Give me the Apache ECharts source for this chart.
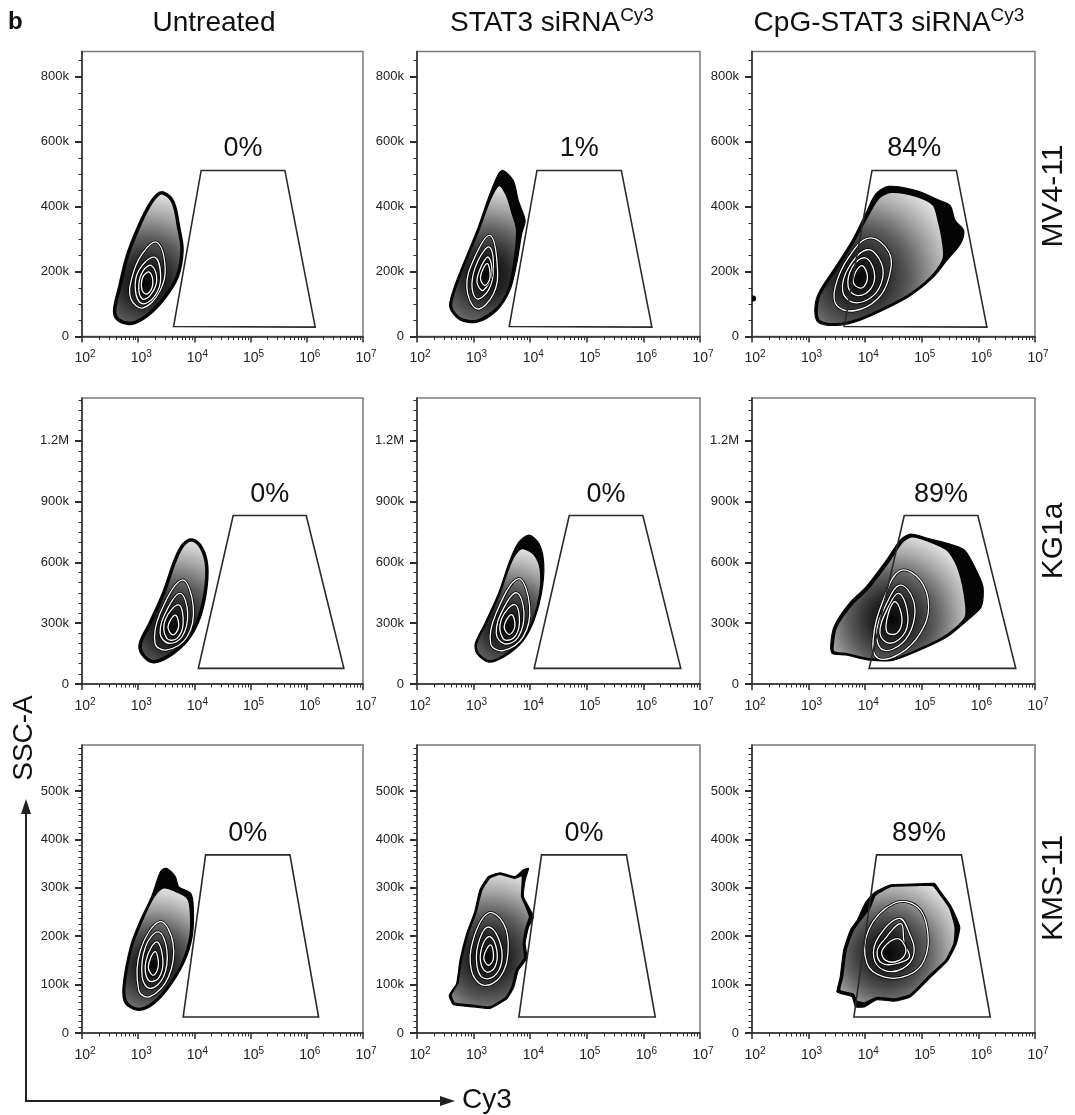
<!DOCTYPE html>
<html><head><meta charset="utf-8">
<script src="https://cdn.jsdelivr.net/npm/echarts@6/dist/echarts.min.js"></script>
<style>html,body{margin:0;padding:0;background:#fff}#c{width:1075px;height:1115px}</style>
</head><body><div id="c"></div>
<script>
// ---------------- DATA ----------------
// x values: log10(Cy3 intensity); y values: SSC-A in thousands (k)
const columnTitles = ['Untreated', 'STAT3 siRNA', 'CpG-STAT3 siRNA'];
const columnSup = ['', 'Cy3', 'Cy3'];
const rowLabels = ['MV4-11', 'KG1a', 'KMS-11'];
const xTickExponents = [2, 3, 4, 5, 6, 7];
const yMaxK = [877, 1411, 595];
const yMajorTicks = [[0, 200, 400, 600, 800], [0, 300, 600, 900, 1200], [0, 100, 200, 300, 400, 500]];
const yMinorStep = [50, 50, 12.5];
const percents = [['0%', '1%', '84%'], ['0%', '0%', '89%'], ['0%', '0%', '89%']];
const gateMV4 = [[3.63, 31], [4.12, 511], [5.61, 511], [6.15, 29]];
const gateKG1a = [[4.07, 77], [4.69, 831], [5.99, 831], [6.66, 77]];
const gateKMS = [[3.80, 33], [4.20, 368], [5.70, 368], [6.21, 33]];

// MV4-11
const body_MV4_untr = [[3.45,441],[3.62,413],[3.72,336],[3.78,265],[3.69,182],[3.45,116],[3.16,65],[2.89,41],[2.65,51],[2.58,80],[2.67,152],[2.80,244],[2.98,326],[3.18,398],[3.33,434]];
const rings_MV4_untr = [
  [[3.33,290],[3.48,213],[3.39,142],[3.09,88],[2.87,116],[2.89,182],[3.07,254]],
  [[3.29,244],[3.40,182],[3.30,126],[3.07,101],[2.95,142],[3.01,203]],
  [[3.24,218],[3.33,172],[3.21,126],[3.07,116],[3.01,157],[3.09,203]],
  [[3.20,198],[3.26,162],[3.16,131],[3.07,142],[3.08,182]]
];
const core_MV4_untr = [3.14, 165];

const band_MV4_stat = [[3.52,511],[3.70,480],[3.79,418],[3.91,357],[3.85,317],[3.76,224],[3.64,142],[3.41,80],[3.06,44],[2.76,51],[2.58,90],[2.64,142],[2.82,224],[3.06,326],[3.29,439],[3.44,500]];
const body_MV4_stat = [[3.45,465],[3.58,435],[3.68,380],[3.76,330],[3.73,250],[3.62,150],[3.41,88],[3.06,50],[2.77,56],[2.61,91],[2.67,142],[2.84,224],[3.08,322],[3.30,424]];
const rings_MV4_stat = [
  [[3.29,311],[3.42,213],[3.35,131],[3.06,85],[2.88,152],[3.02,244]],
  [[3.28,275],[3.35,203],[3.26,142],[3.06,116],[2.97,162],[3.08,234]],
  [[3.26,244],[3.32,193],[3.17,142],[3.06,167],[3.14,218]],
  [[3.24,224],[3.29,182],[3.20,157],[3.12,182]]
];
const core_MV4_stat = [3.22, 190];

const band_MV4_cpg = [[3.11,80],[3.17,131],[3.47,213],[3.77,295],[4.01,378],[4.19,439],[4.42,462],[4.90,449],[5.32,418],[5.50,403],[5.59,357],[5.74,326],[5.68,285],[5.44,234],[5.20,182],[4.84,131],[4.42,90],[3.89,49],[3.47,34],[3.17,44]];
const body_MV4_cpg = [[3.15,84],[3.21,131],[3.51,213],[3.81,295],[4.05,372],[4.24,426],[4.46,444],[4.90,432],[5.20,405],[5.29,357],[5.36,300],[5.38,240],[5.17,185],[4.82,134],[4.41,94],[3.89,54],[3.48,39],[3.19,49]];
const rings_MV4_cpg = [
  [[4.07,303],[4.42,259],[4.42,182],[4.22,116],[3.83,80],[3.50,95],[3.47,152],[3.71,244]],
  [[4.04,267],[4.29,224],[4.28,162],[4.07,116],[3.77,106],[3.60,142],[3.71,213]],
  [[4.00,242],[4.16,198],[4.10,147],[3.86,126],[3.70,152],[3.77,213]],
  [[3.95,218],[4.04,182],[3.95,150],[3.80,162],[3.83,198]]
];
const core_MV4_cpg = [3.89, 182];
const dots_MV4_cpg = [[2.02, 117]];

// KG1a
const body_KG1a_untr = [[3.96,710],[4.13,669],[4.22,579],[4.19,447],[4.07,316],[3.87,217],[3.57,143],[3.27,110],[3.07,151],[3.04,201],[3.21,299],[3.45,447],[3.66,612],[3.80,686]];
const rings_KG1a_untr = [
  [[3.78,513],[3.98,381],[3.87,233],[3.51,168],[3.30,201],[3.39,349]],
  [[3.75,447],[3.88,349],[3.78,233],[3.54,201],[3.39,250],[3.51,365]],
  [[3.72,390],[3.80,299],[3.69,225],[3.51,225],[3.48,316]],
  [[3.66,340],[3.72,283],[3.62,242],[3.53,283]]
];
const core_KG1a_untr = [3.60, 283];

const band_KG1a_stat = [[3.98,735],[4.16,690],[4.24,590],[4.20,450],[4.07,316],[3.87,212],[3.57,140],[3.27,108],[3.06,150],[3.03,200],[3.20,299],[3.44,447],[3.65,615],[3.80,700]];
const body_KG1a_stat = [[3.92,665],[4.08,635],[4.18,565],[4.17,447],[4.05,316],[3.86,216],[3.57,146],[3.28,114],[3.08,152],[3.05,200],[3.22,299],[3.46,447],[3.67,606],[3.82,665]];
const rings_KG1a_stat = [
  [[3.79,520],[3.99,385],[3.88,235],[3.52,165],[3.30,200],[3.40,350]],
  [[3.76,450],[3.89,350],[3.79,232],[3.55,198],[3.40,250],[3.52,368]],
  [[3.73,392],[3.81,300],[3.70,226],[3.52,224],[3.49,318]],
  [[3.67,342],[3.73,285],[3.63,244],[3.54,285]]
];
const core_KG1a_stat = [3.60, 285];

const band_KG1a_cpg = [[3.39,184],[3.45,283],[3.72,398],[4.02,480],[4.38,612],[4.62,710],[4.80,740],[5.10,719],[5.45,694],[5.75,661],[5.93,579],[6.08,480],[6.05,381],[5.81,316],[5.45,233],[4.97,168],[4.50,118],[4.08,118],[3.66,143],[3.42,151]];
const body_KG1a_cpg = [[3.43,184],[3.49,280],[3.76,390],[4.06,472],[4.41,600],[4.65,698],[4.82,727],[5.10,707],[5.45,660],[5.63,579],[5.75,447],[5.77,330],[5.43,240],[4.97,174],[4.50,124],[4.08,124],[3.67,149],[3.45,158]];
const rings_KG1a_cpg = [
  [[4.62,559],[4.97,513],[5.12,381],[4.97,250],[4.62,151],[4.23,127],[4.14,217],[4.32,414]],
  [[4.62,488],[4.85,414],[4.85,299],[4.65,201],[4.32,168],[4.20,250],[4.38,398]],
  [[4.59,447],[4.74,365],[4.71,258],[4.44,201],[4.26,250],[4.41,381]],
  [[4.53,406],[4.65,324],[4.56,250],[4.38,258],[4.41,349]]
];
const core_KG1a_cpg = [4.47, 320];

// KMS-11
const band_KMS_untr = [[3.51,340],[3.66,323],[3.72,302],[3.93,289],[3.98,261],[3.96,199],[3.81,144],[3.51,88],[3.21,54],[2.98,47],[2.77,61],[2.73,95],[2.86,178],[3.04,233],[3.24,282],[3.36,323],[3.42,337]];
const body_KMS_untr = [[3.45,300],[3.68,292],[3.88,278],[3.93,250],[3.92,199],[3.78,145],[3.49,91],[3.20,58],[2.98,51],[2.80,64],[2.76,95],[2.89,178],[3.07,232],[3.27,280]];
const rings_KMS_untr = [
  [[3.39,230],[3.62,185],[3.54,116],[3.21,75],[3.01,88],[3.04,171]],
  [[3.36,209],[3.51,171],[3.45,116],[3.21,92],[3.07,116],[3.13,178]],
  [[3.33,188],[3.44,150],[3.36,113],[3.18,109],[3.14,150]],
  [[3.30,168],[3.36,140],[3.27,119],[3.18,137]]
];
const core_KMS_untr = [3.27, 137];

const band_KMS_stat = [[3.97,340],[3.91,316],[3.88,282],[3.97,261],[4.06,240],[3.97,219],[3.91,185],[3.94,154],[3.79,130],[3.71,95],[3.59,71],[3.29,51],[2.99,54],[2.64,59],[2.57,78],[2.70,102],[2.76,150],[2.88,206],[3.02,250],[3.11,295],[3.26,323],[3.47,331],[3.73,323],[3.88,337]];
const body_KMS_stat = [[3.86,325],[3.85,282],[3.93,260],[3.99,240],[3.93,219],[3.88,185],[3.90,155],[3.76,131],[3.68,96],[3.57,73],[3.29,54],[2.99,57],[2.66,62],[2.60,79],[2.72,103],[2.78,150],[2.90,205],[3.04,249],[3.14,294],[3.28,320],[3.47,328],[3.72,320]];
const rings_KMS_stat = [
  [[3.26,248],[3.53,226],[3.61,171],[3.47,116],[3.17,99],[2.96,130],[2.99,192]],
  [[3.26,219],[3.44,195],[3.50,150],[3.35,116],[3.14,116],[3.05,150],[3.11,195]],
  [[3.29,199],[3.41,171],[3.38,137],[3.23,126],[3.12,150],[3.17,185]],
  [[3.30,182],[3.35,154],[3.26,140],[3.18,157]]
];
const core_KMS_stat = [3.26, 157];

const band_KMS_cpg = [[3.50,85],[3.56,116],[3.62,171],[3.74,213],[3.86,233],[4.00,268],[4.15,289],[4.45,306],[4.92,308],[5.22,309],[5.31,295],[5.52,261],[5.67,219],[5.61,185],[5.46,150],[5.16,116],[4.80,75],[4.51,66],[4.21,69],[3.98,54],[3.83,54],[3.77,75],[3.56,82]];
const body_KMS_cpg = [[3.55,88],[3.60,116],[3.66,171],[3.78,211],[3.90,231],[4.08,258],[4.18,285],[4.46,303],[4.92,305],[5.20,305],[5.29,292],[5.49,259],[5.59,219],[5.57,185],[5.43,151],[5.13,118],[4.80,79],[4.51,70],[4.21,73],[3.98,62],[3.85,66],[3.79,80]];
const rings_KMS_cpg = [
  [[4.51,268],[4.92,261],[5.10,213],[5.04,150],[4.75,119],[4.33,116],[4.03,144],[4.06,213]],
  [[4.60,237],[4.78,206],[4.86,164],[4.66,133],[4.33,130],[4.15,157],[4.24,199]],
  [[4.63,226],[4.69,185],[4.78,157],[4.57,144],[4.30,144],[4.21,168],[4.33,192]],
  [[4.57,195],[4.72,171],[4.60,150],[4.36,150],[4.30,171]]
];
const core_KMS_cpg = [4.39, 164];

// ---------------- BUILD ----------------
const F = "'Liberation Sans', Arial, Helvetica, sans-serif";
const panels = [
  {band: null, body: body_MV4_untr, rings: rings_MV4_untr, core: core_MV4_untr, gate: gateMV4, smooth: 0.35},
  {band: band_MV4_stat, body: body_MV4_stat, rings: rings_MV4_stat, core: core_MV4_stat, gate: gateMV4, smooth: 0.3},
  {band: band_MV4_cpg, body: body_MV4_cpg, rings: rings_MV4_cpg, core: core_MV4_cpg, gate: gateMV4, smooth: 0.3, dots: dots_MV4_cpg},
  {band: null, body: body_KG1a_untr, rings: rings_KG1a_untr, core: core_KG1a_untr, gate: gateKG1a, smooth: 0.35},
  {band: band_KG1a_stat, body: body_KG1a_stat, rings: rings_KG1a_stat, core: core_KG1a_stat, gate: gateKG1a, smooth: 0.3},
  {band: band_KG1a_cpg, body: body_KG1a_cpg, rings: rings_KG1a_cpg, core: core_KG1a_cpg, gate: gateKG1a, smooth: 0.25},
  {band: band_KMS_untr, body: body_KMS_untr, rings: rings_KMS_untr, core: core_KMS_untr, gate: gateKMS, smooth: 0.3},
  {band: band_KMS_stat, body: body_KMS_stat, rings: rings_KMS_stat, core: core_KMS_stat, gate: gateKMS, smooth: 0.15},
  {band: band_KMS_cpg, body: body_KMS_cpg, rings: rings_KMS_cpg, core: core_KMS_cpg, gate: gateKMS, smooth: 0.15}
];

const minorLogTicks = [];
for (let n = xTickExponents[0]; n < xTickExponents[xTickExponents.length - 1]; n++)
  for (let k = 2; k <= 9; k++) minorLogTicks.push(n + Math.log10(k));

const colLeft = [82, 417, 752], colWidth = [281, 283, 283];
const rowTop = [51.5, 398, 745], rowHeight = [285, 286, 288];

const grids = [], xAxes = [], yAxes = [], series = [];
const axisColor = '#2b2b2b';

function makeRender(P, pct) {
  return function (params, api) {
    const px = pts => pts.map(q => api.coord(q));
    const kids = [];
    const c = api.coord(P.core);
    const bodyPts = px(P.body);
    let rad = 0;
    bodyPts.forEach(q => { rad = Math.max(rad, Math.hypot(q[0] - c[0], q[1] - c[1])); });
    const grad = {type: 'radial', x: c[0], y: c[1], r: rad, global: true, colorStops: [
      {offset: 0, color: '#050505'}, {offset: 0.25, color: '#262626'}, {offset: 0.5, color: '#5e5e5e'},
      {offset: 0.75, color: '#a8a8a8'}, {offset: 1, color: '#e6e6e6'}]};
    if (P.band) kids.push({type: 'polygon', shape: {points: px(P.band), smooth: P.smooth},
      style: {fill: '#050505', stroke: '#050505', lineWidth: 1.2}});
    kids.push({type: 'polygon', shape: {points: bodyPts, smooth: P.smooth},
      style: {fill: grad, stroke: '#050505', lineWidth: P.band ? 1.6 : 3.5}});
    P.rings.forEach(rg => {
      const pts = px(rg);
      kids.push({type: 'polygon', shape: {points: pts, smooth: 0.4}, style: {fill: 'none', stroke: '#000', lineWidth: 2.8}});
      kids.push({type: 'polygon', shape: {points: pts, smooth: 0.4}, style: {fill: 'none', stroke: '#fff', lineWidth: 1.3}});
    });
    (P.dots || []).forEach(d => {
      const q = api.coord(d);
      kids.push({type: 'circle', shape: {cx: q[0], cy: q[1], r: 3}, style: {fill: '#000'}});
    });
    kids.push({type: 'polygon', shape: {points: px(P.gate)}, style: {fill: 'none', stroke: '#2a2a2a', lineWidth: 1.6}});
    const top = api.coord([(P.gate[1][0] + P.gate[2][0]) / 2, P.gate[1][1]]);
    kids.push({type: 'text', x: top[0], y: top[1] - 8,
      style: {text: pct, font: '27px ' + F, fill: '#111', align: 'center', verticalAlign: 'bottom'}});
    return {type: 'group', children: kids};
  };
}

for (let r = 0; r < 3; r++) {
  for (let c = 0; c < 3; c++) {
    const i = r * 3 + c;
    grids.push({left: colLeft[c], top: rowTop[r], width: colWidth[c], height: rowHeight[r],
      show: true, borderColor: '#7a7a7a', borderWidth: 1.5, backgroundColor: 'transparent', containLabel: false});
    xAxes.push({type: 'value', gridIndex: i, min: 2, max: 7, interval: 1, position: 'bottom',
      axisLine: {show: true, onZero: false, lineStyle: {color: axisColor, width: 1.5}},
      axisTick: {show: true, length: 6, lineStyle: {color: axisColor, width: 1.5}},
      axisLabel: {show: true, margin: 13, color: '#222', padding: [0, 0, 0, 6],
        formatter: v => '{b|10}{s|' + v + '}',
        rich: {b: {fontSize: 14, fontFamily: F, color: '#222', lineHeight: 18},
               s: {fontSize: 10, fontFamily: F, color: '#222', lineHeight: 6, verticalAlign: 'top'}}},
      splitLine: {show: false}});
    xAxes.push({type: 'value', gridIndex: i, min: 2, max: 7, position: 'bottom',
      axisLine: {show: false, onZero: false},
      axisTick: {show: true, length: 3.5, customValues: minorLogTicks, lineStyle: {color: axisColor, width: 1}},
      axisLabel: {show: false}, splitLine: {show: false}});
    const minorVals = [];
    for (let v = 0; v <= yMaxK[r]; v += yMinorStep[r]) minorVals.push(v);
    yAxes.push({type: 'value', gridIndex: i, min: 0, max: yMaxK[r], position: 'left',
      axisLine: {show: true, onZero: false, lineStyle: {color: axisColor, width: 1.5}},
      axisTick: {show: true, length: 7, customValues: yMajorTicks[r], lineStyle: {color: axisColor, width: 2}},
      axisLabel: {show: true, customValues: yMajorTicks[r], margin: 13, fontSize: 13, fontFamily: F, color: '#222',
        formatter: v => v === 0 ? '0' : (v >= 1000 ? (v / 1000) + 'M' : v + 'k')},
      splitLine: {show: false}});
    yAxes.push({type: 'value', gridIndex: i, min: 0, max: yMaxK[r], position: 'left',
      axisLine: {show: false, onZero: false},
      axisTick: {show: true, length: 3.5, customValues: minorVals, lineStyle: {color: axisColor, width: 1}},
      axisLabel: {show: false}, splitLine: {show: false}});
    series.push({type: 'custom', xAxisIndex: 2 * i, yAxisIndex: 2 * i, data: [[2, 0]], clip: true, silent: true,
      renderItem: makeRender(panels[i], percents[r][c])});
  }
}

const titleRich = {
  a: {fontSize: 28, fontFamily: F, fill: '#111', color: '#111', lineHeight: 34},
  s: {fontSize: 19, fontFamily: F, fill: '#111', color: '#111', lineHeight: 16, verticalAlign: 'top'}
};
const colCenter = [214, 552, 889];
const graphics = [
  {type: 'text', x: 8, y: 22, style: {text: 'b', font: 'bold 24px ' + F, fill: '#111', verticalAlign: 'middle'}}
];
columnTitles.forEach((t, c) => {
  graphics.push({type: 'text', x: colCenter[c], y: 23,
    style: {text: '{a|' + t + '}' + (columnSup[c] ? '{s|' + columnSup[c] + '}' : ''), rich: titleRich,
      fill: '#111', align: 'center', verticalAlign: 'middle'}});
});
const rowCenter = [196, 541, 888];
rowLabels.forEach((t, r) => {
  graphics.push({type: 'text', x: 1054, y: rowCenter[r], rotation: Math.PI / 2,
    style: {text: t, font: '30px ' + F, fill: '#111', align: 'center', verticalAlign: 'middle'}});
});
graphics.push(
  {type: 'text', x: 24, y: 738, rotation: Math.PI / 2, style: {text: 'SSC-A', font: '28px ' + F, fill: '#111', align: 'center', verticalAlign: 'middle'}},
  {type: 'text', x: 462, y: 1100, style: {text: 'Cy3', font: '28px ' + F, fill: '#111', align: 'left', verticalAlign: 'middle'}},
  {type: 'polyline', shape: {points: [[26, 812], [26, 1101], [442, 1101]]}, style: {stroke: '#222', lineWidth: 2, fill: 'none'}},
  {type: 'polygon', shape: {points: [[26, 799], [21, 814], [31, 814]]}, style: {fill: '#222'}},
  {type: 'polygon', shape: {points: [[455, 1101], [440, 1096], [440, 1106]]}, style: {fill: '#222'}}
);

const chart = echarts.init(document.getElementById('c'), null, {renderer: 'canvas'});
chart.setOption({
  backgroundColor: '#fff',
  animation: false,
  grid: grids,
  xAxis: xAxes,
  yAxis: yAxes,
  series: series,
  graphic: graphics
});
</script>
</body></html>
